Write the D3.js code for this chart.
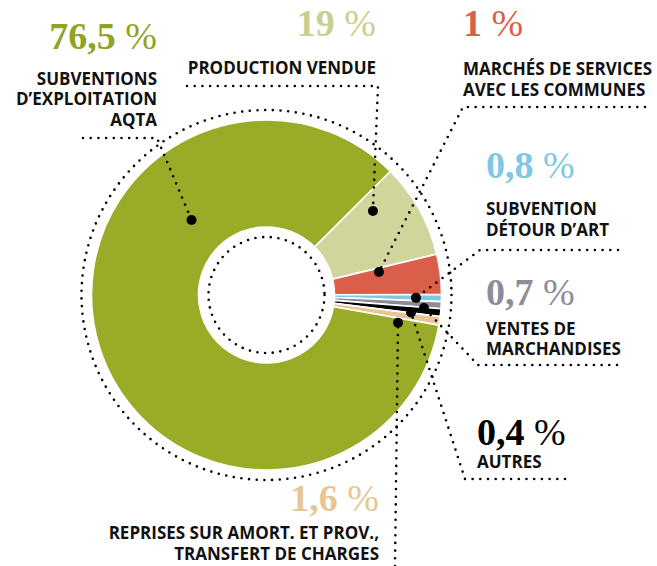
<!DOCTYPE html>
<html>
<head>
<meta charset="utf-8">
<script src="https://cdn.jsdelivr.net/npm/d3@7"></script>
<style>
  body { margin: 0; background: #fff; }
  .num { font-family: "Liberation Serif", serif; font-weight: bold; font-size: 38px; }
  .num .pct { font-weight: normal; }
  .lbl { font-family: "Open Sans", sans-serif; font-weight: bold; font-size: 17px; fill: #111; }
  .dots { fill: none; stroke: #000; stroke-width: 2.6; stroke-linecap: round; stroke-dasharray: 0 7.7; }
</style>
</head>
<body>
<div id="chart"></div>
<script>
// Data, in the order the slices run clockwise (starting at the light green one)
var categories = [
  "Production vendue",
  "Marchés de services avec les communes",
  "Subvention Détour d'art",
  "Ventes de marchandises",
  "Autres",
  "Reprises sur amort. et prov., transfert de charges",
  "Subventions d'exploitation AQTA"
];
var labelLines = [
  ["PRODUCTION VENDUE"],
  ["MARCHÉS DE SERVICES", "AVEC LES COMMUNES"],
  ["SUBVENTION", "DÉTOUR D’ART"],
  ["VENTES DE", "MARCHANDISES"],
  ["AUTRES"],
  ["REPRISES SUR AMORT. ET PROV.,", "TRANSFERT DE CHARGES"],
  ["SUBVENTIONS", "D’EXPLOITATION", "AQTA"]
];
// printed percentages
var percents = [19, 1, 0.8, 0.7, 0.4, 1.6, 76.5];
// share of the ring each slice gets in the picture (not to scale with the labels)
var drawnShares = [8.75, 3.7, 0.65, 0.65, 0.72, 0.78, 84.75];

var sliceColors = ["#d0d59b", "#d95f48", "#7fc7e5", "#8d8c9b", "#000000", "#e6c695", "#99ab27"];
var textColors  = ["#c9cf8e", "#d95f48", "#7fc7e5", "#8d8c9b", "#000000", "#e6c695", "#8fa424"];

const width = 657, height = 566;
const cx = 266.5, cy = 295;
const innerR = 68, outerR = 175;

const svg = d3.select("#chart").append("svg")
  .attr("width", width)
  .attr("height", height);

const color = d3.scaleOrdinal().domain(categories).range(sliceColors);
const textColor = d3.scaleOrdinal().domain(categories).range(textColors);

const fr = d3.formatLocale({ decimal: ",", thousands: " ", grouping: [3], currency: ["", "€"] });
const fmt = v => fr.format(",")(v);

const pieData = categories.map((c, i) => ({ cat: c, share: drawnShares[i], pct: percents[i], lines: labelLines[i] }));

const pie = d3.pie()
  .sort(null)
  .value(d => d.share)
  .startAngle(Math.PI / 4)
  .endAngle(Math.PI / 4 + 2 * Math.PI);

const arc = d3.arc().innerRadius(innerR).outerRadius(outerR);

const g = svg.append("g").attr("transform", `translate(${cx},${cy})`);

// outer and inner dotted rings
g.append("circle").attr("class", "dots").attr("r", 185);
g.selectAll("path.slice")
  .data(pie(pieData))
  .join("path")
  .attr("class", "slice")
  .attr("d", arc)
  .attr("fill", d => color(d.data.cat))
  .attr("stroke", "#fff")
  .attr("stroke-width", 1.6)
  .attr("stroke-linejoin", "round");
g.append("circle").attr("class", "dots").attr("r", 58);

// label layout (anchor, number baseline, label baselines, leader start, dot angle/radius)
var layout = [
  { anchor: "end",   x: 376, ny: 36,  ly: [74],           lead: [[187, 86], [378, 86]],   dot: [51.7, 135.6] },
  { anchor: "start", x: 463, ny: 36,  ly: [75, 96],       lead: [[645, 107], [463, 107]], dot: [78.4, 114.8] },
  { anchor: "start", x: 486, ny: 178, ly: [215, 236],     lead: [[618, 250], [480, 250]], dot: [91.1, 149.5] },
  { anchor: "start", x: 486, ny: 305, ly: [335, 355],     lead: [[617, 365], [478, 365]], dot: [94.7, 158] },
  { anchor: "start", x: 477, ny: 445, ly: [468],          lead: [[565, 479], [465, 479]], dot: [96.9, 145.6] },
  { anchor: "end",   x: 379, ny: 511, ly: [539, 560],     lead: [[395, 566]],             dot: [101.9, 134.4] },
  { anchor: "end",   x: 157, ny: 49,  ly: [85, 105, 126], lead: [[83, 138], [157, 138]],  dot: [315, 106] }
];

const line = d3.line();

pieData.forEach((d, i) => {
  const L = layout[i];
  const p = d3.pointRadial(L.dot[0] * Math.PI / 180, L.dot[1]);
  const dotPt = [cx + p[0], cy + p[1]];

  svg.append("path")
    .attr("class", "dots")
    .attr("d", line(L.lead.concat([dotPt])));

  svg.append("circle")
    .attr("cx", dotPt[0]).attr("cy", dotPt[1])
    .attr("r", 5).attr("fill", "#000");

  const num = svg.append("text")
    .attr("class", "num")
    .attr("x", L.x).attr("y", L.ny)
    .attr("text-anchor", L.anchor)
    .attr("fill", textColor(d.cat));
  num.append("tspan").text(fmt(d.pct) + " ");
  num.append("tspan").attr("class", "pct").text("%");

  svg.selectAll(null)
    .data(d.lines)
    .join("text")
    .attr("class", "lbl")
    .attr("x", L.x)
    .attr("y", (t, j) => L.ly[j])
    .attr("text-anchor", L.anchor)
    .text(t => t);
});
</script>
</body>
</html>
